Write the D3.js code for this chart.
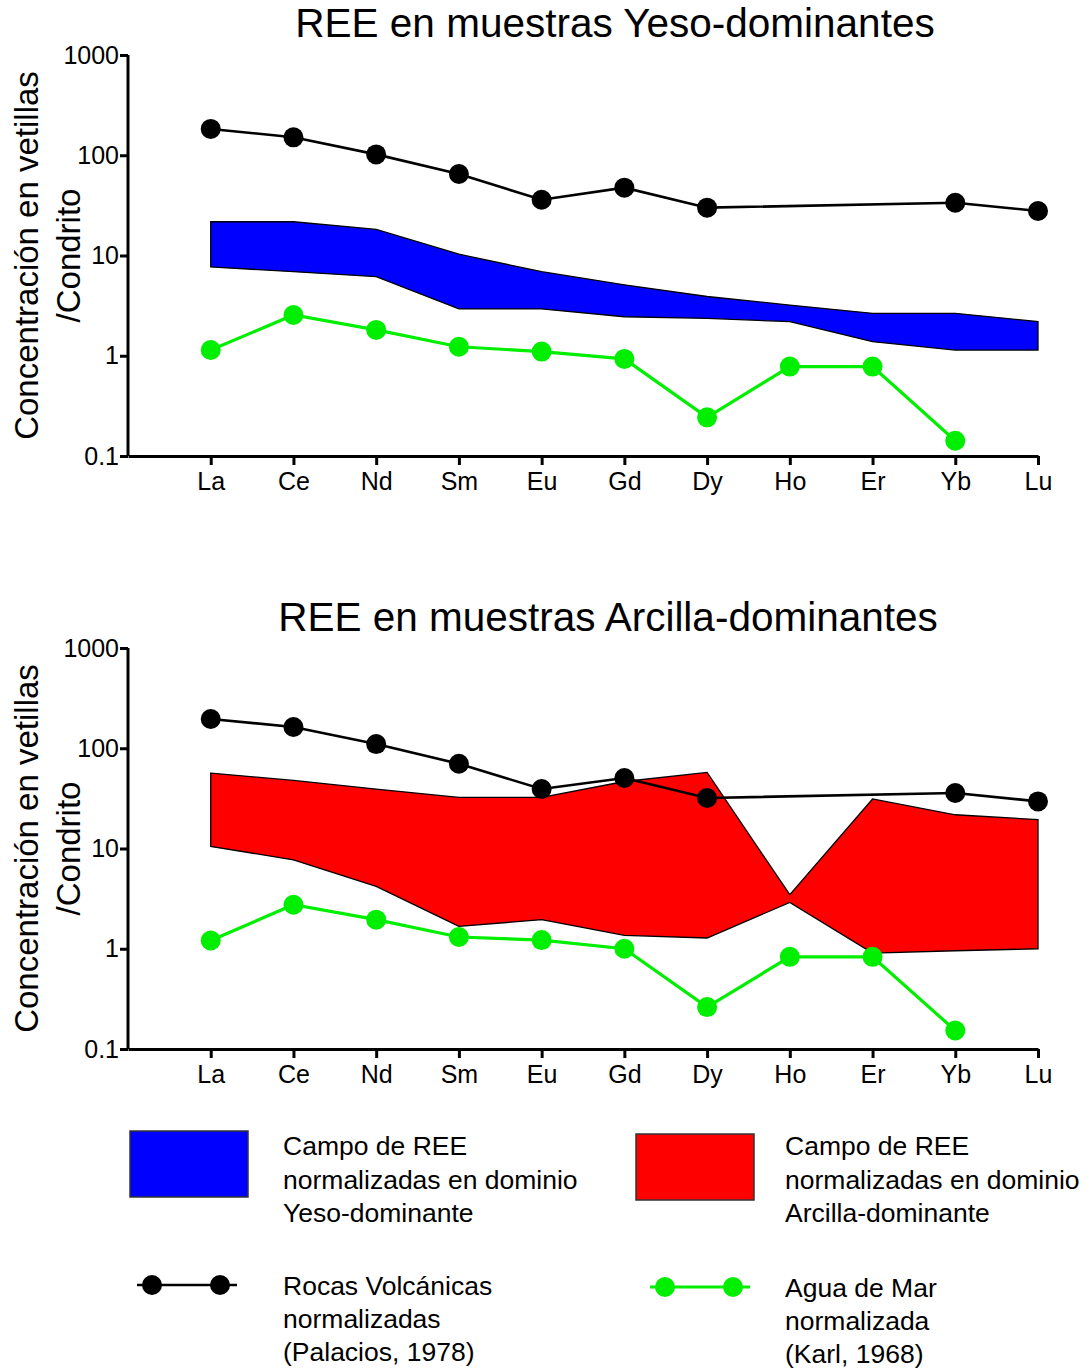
<!DOCTYPE html>
<html>
<head>
<meta charset="utf-8">
<script src="https://cdn.jsdelivr.net/npm/d3@7"></script>
<style>
  html, body { margin: 0; padding: 0; background: #fff; }
  svg { display: block; font-family: "Liberation Sans", Arial, Helvetica, sans-serif; }
</style>
</head>
<body>
<svg id="chart" width="1089" height="1369"></svg>
<script>
// ---------- DATA ----------
const categories = ["La","Ce","Nd","Sm","Eu","Gd","Dy","Ho","Er","Yb","Lu"];
const yTickValues = [0.1, 1, 10, 100, 1000];

// Panel 1: Yeso-dominantes
const volcanicYeso  = [183, 151, 102, 65, 36, 47.5, 30, null, null, 33.6, 27.8];
const seawaterYeso  = [1.14, 2.55, 1.81, 1.23, 1.10, 0.93, 0.243, 0.78, 0.78, 0.142, null];
const yesoUpper     = [21.7, 21.7, 18.2, 10.3, 6.9, 5.1, 3.9, 3.2, 2.65, 2.65, 2.19];
const yesoLower     = [7.7, 6.9, 6.15, 2.93, 2.93, 2.45, 2.36, 2.19, 1.38, 1.14, 1.14];

// Panel 2: Arcilla-dominantes
const volcanicArcilla = [196, 163, 110, 70, 39.2, 50.5, 31.9, null, null, 35.8, 29.5];
const seawaterArcilla = [1.21, 2.75, 1.95, 1.31, 1.22, 1.0, 0.262, 0.83, 0.83, 0.153, null];
const arcillaUpper    = [56.6, 47.8, 39.2, 32.3, 32.3, 46.6, 57.4, 3.46, 31.2, 21.7, 19.4];
const arcillaLower    = [10.5, 7.7, 4.19, 1.67, 1.95, 1.36, 1.28, 2.9, 0.906, 0.955, 1.0];

const titles = ["REE en muestras Yeso-dominantes", "REE en muestras Arcilla-dominantes"];
const yLabelLines = ["Concentración en vetillas", "/Condrito"];

const legendBands = [
  ["Campo de REE", "normalizadas en dominio", "Yeso-dominante"],
  ["Campo de REE", "normalizadas en dominio", "Arcilla-dominante"]
];
const legendLines = [
  ["Rocas Volcánicas", "normalizadas", "(Palacios, 1978)"],
  ["Agua de Mar", "normalizada", "(Karl, 1968)"]
];

// ---------- DRAWING ----------
const svg = d3.select("#chart");
const BLUE = "#0000ff", RED = "#ff0000", GREEN = "#00ee00", BLACK = "#000000";

const x = d3.scalePoint().domain(["", ...categories]).range([128, 1038]);

function panel(cfg) {
  const y = d3.scaleLog().domain([0.1, 1000]).range([cfg.bottom, cfg.top]);
  const g = svg.append("g");

  // title
  g.append("text")
    .attr("x", cfg.titleX).attr("y", cfg.titleY)
    .attr("text-anchor", "middle")
    .attr("font-size", 40.5)
    .text(cfg.title);

  // y label
  const yc = (cfg.top + cfg.bottom) / 2;
  [38, 80].forEach((bx, i) => {
    g.append("text")
      .attr("transform", `translate(${bx},${yc}) rotate(-90)`)
      .attr("text-anchor", "middle")
      .attr("font-size", 33)
      .text(yLabelLines[i]);
  });

  // band
  const bandData = categories.map((c, i) => ({ c, lo: cfg.lower[i], hi: cfg.upper[i] }));
  const area = d3.area().x(d => x(d.c)).y0(d => y(d.lo)).y1(d => y(d.hi));
  g.append("path").datum(bandData)
    .attr("d", d => area(d) + "Z")
    .attr("fill", cfg.bandColor)
    .attr("stroke", BLACK).attr("stroke-width", 1.3).attr("stroke-linejoin", "miter");

  const line = d3.line().x(d => x(d.c)).y(d => y(d.v));
  function series(vals, color, width) {
    const pts = categories.map((c, i) => ({ c, v: vals[i] })).filter(d => d.v != null);
    g.append("path").datum(pts).attr("d", line)
      .attr("fill", "none").attr("stroke", color).attr("stroke-width", width);
    g.selectAll(null).data(pts).enter().append("circle")
      .attr("cx", d => x(d.c)).attr("cy", d => y(d.v)).attr("r", 10)
      .attr("fill", color);
  }
  series(cfg.sea, GREEN, 3.2);
  series(cfg.volc, BLACK, 2.6);

  // axes
  const yAxis = d3.axisLeft(y).tickValues(yTickValues)
    .tickFormat(d3.format("~g")).tickSize(8).tickSizeOuter(0).tickPadding(3);
  const ya = g.append("g").attr("transform", `translate(128,0)`).call(yAxis);
  const xAxis = d3.axisBottom(x).tickValues(categories).tickSize(9).tickSizeOuter(0).tickPadding(7);
  const xa = g.append("g").attr("transform", `translate(0,${cfg.bottom})`).call(xAxis);
  [ya, xa].forEach(a => {
    a.select(".domain").attr("stroke-width", 3).attr("stroke", BLACK);
    a.selectAll(".tick line").attr("stroke-width", 3).attr("stroke", BLACK);
    a.selectAll(".tick text").attr("font-size", 25).attr("fill", BLACK)
      .attr("font-family", "'Liberation Sans', Arial, sans-serif");
  });
  ya.select(".domain").attr("d", `M0,${cfg.top}V${cfg.bottom}`);
  ya.selectAll(".tick text").attr("x", -9);
}

panel({ top: 55, bottom: 456, title: titles[0], titleX: 615, titleY: 37,
        upper: yesoUpper, lower: yesoLower, bandColor: BLUE,
        volc: volcanicYeso, sea: seawaterYeso });
panel({ top: 648, bottom: 1049, title: titles[1], titleX: 608, titleY: 631,
        upper: arcillaUpper, lower: arcillaLower, bandColor: RED,
        volc: volcanicArcilla, sea: seawaterArcilla });

// ---------- LEGEND ----------
const lg = svg.append("g");
const bandBoxes = [
  { x: 130, y: 1131, color: BLUE, tx: 283 },
  { x: 636, y: 1134, color: RED, tx: 785 }
];
bandBoxes.forEach((b, i) => {
  lg.append("rect").attr("x", b.x).attr("y", b.y).attr("width", 118).attr("height", 66)
    .attr("fill", b.color).attr("stroke", "#333").attr("stroke-width", 1.5);
  legendBands[i].forEach((t, j) => {
    lg.append("text").attr("x", b.tx).attr("y", 1155 + j * 33.5)
      .attr("font-size", 26.5).text(t);
  });
});
const lineItems = [
  { x1: 137, x2: 237, m: [152, 220], y: 1285, color: BLACK, w: 2.6, tx: 283, ty: 1295 },
  { x1: 650, x2: 750, m: [665, 733], y: 1287, color: GREEN, w: 3.2, tx: 785, ty: 1297 }
];
lineItems.forEach((l, i) => {
  lg.append("line").attr("x1", l.x1).attr("x2", l.x2).attr("y1", l.y).attr("y2", l.y)
    .attr("stroke", l.color).attr("stroke-width", l.w);
  l.m.forEach(mx => lg.append("circle").attr("cx", mx).attr("cy", l.y).attr("r", 10).attr("fill", l.color));
  legendLines[i].forEach((t, j) => {
    lg.append("text").attr("x", l.tx).attr("y", l.ty + j * 33)
      .attr("font-size", 26.5).text(t);
  });
});
</script>
</body>
</html>
